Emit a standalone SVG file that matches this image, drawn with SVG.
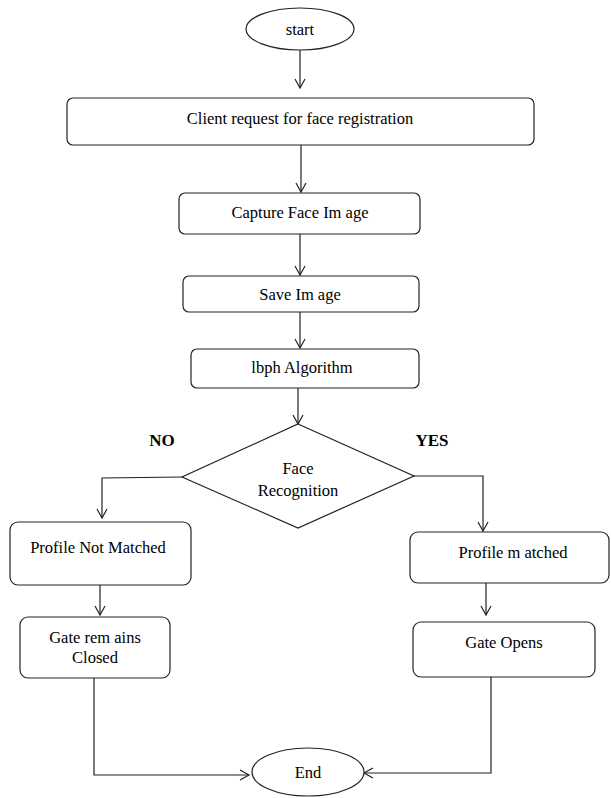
<svg xmlns="http://www.w3.org/2000/svg" width="611" height="798" viewBox="0 0 611 798">
<style>
.n{fill:#fff;stroke:#222;stroke-width:1.2}
.t{font-family:"Liberation Serif","Times New Roman",serif;font-size:16.5px;fill:#000;text-anchor:middle}
.b{font-weight:bold;font-size:17px}
.c{fill:none;stroke:#222;stroke-width:1.2}
</style>
<defs>
<marker id="a" markerWidth="12" markerHeight="12" refX="10" refY="6" orient="auto" markerUnits="userSpaceOnUse">
<path d="M1,1 L10,6 L1,11" fill="none" stroke="#222" stroke-width="1.2"/>
</marker>
</defs>
<rect width="611" height="798" fill="#fff"/>
<g id="connectors">
<line class="c" x1="300" y1="50" x2="300" y2="88" marker-end="url(#a)"/>
<line class="c" x1="301" y1="145" x2="301" y2="192" marker-end="url(#a)"/>
<line class="c" x1="300" y1="234" x2="300" y2="275" marker-end="url(#a)"/>
<line class="c" x1="300" y1="312" x2="300" y2="348" marker-end="url(#a)"/>
<line class="c" x1="298" y1="388" x2="298" y2="424" marker-end="url(#a)"/>
<polyline class="c" points="182,477 102,478 102,518" marker-end="url(#a)"/>
<polyline class="c" points="414,476 483,476 483,531" marker-end="url(#a)"/>
<line class="c" x1="100" y1="585" x2="100" y2="615" marker-end="url(#a)"/>
<line class="c" x1="486" y1="583" x2="486" y2="615" marker-end="url(#a)"/>
<polyline class="c" points="94,678 94,775 249,775" marker-end="url(#a)"/>
<polyline class="c" points="491,677 491,773 364,773" marker-end="url(#a)"/>
</g>
<g id="start"><ellipse class="n" cx="300" cy="29" rx="54" ry="21"/><text class="t" x="300" y="35">start</text></g>
<g id="client"><rect class="n" x="67" y="98" width="467" height="47" rx="6"/><text class="t" x="300" y="124">Client request for face registration</text></g>
<g id="capture"><rect class="n" x="179" y="193" width="241" height="41" rx="6"/><text class="t" x="300" y="218">Capture Face Im age</text></g>
<g id="save"><rect class="n" x="183" y="276" width="236" height="36" rx="6"/><text class="t" x="300" y="300">Save Im age</text></g>
<g id="lbph"><rect class="n" x="191" y="349" width="228" height="39" rx="6"/><text class="t" x="302" y="373">lbph Algorithm</text></g>
<g id="decision"><polygon class="n" points="298,424 414,476 298,528 182,477"/><text class="t" x="298" y="474">Face</text><text class="t" x="298" y="496">Recognition</text></g>
<text class="t b" x="162" y="446">NO</text>
<text class="t b" x="432" y="446">YES</text>
<g id="notmatched"><rect class="n" x="10" y="522" width="181" height="63" rx="8"/><text class="t" x="98" y="553">Profile Not Matched</text></g>
<g id="matched"><rect class="n" x="410" y="532" width="199" height="51" rx="8"/><text class="t" x="513" y="558">Profile m atched</text></g>
<g id="closed"><rect class="n" x="20" y="617" width="150" height="61" rx="8"/><text class="t" x="95" y="643">Gate rem ains</text><text class="t" x="95" y="663">Closed</text></g>
<g id="opens"><rect class="n" x="413" y="622" width="182" height="55" rx="8"/><text class="t" x="504" y="648">Gate Opens</text></g>
<g id="end"><ellipse class="n" cx="308" cy="772" rx="56" ry="24"/><text class="t" x="308" y="778">End</text></g>
</svg>
